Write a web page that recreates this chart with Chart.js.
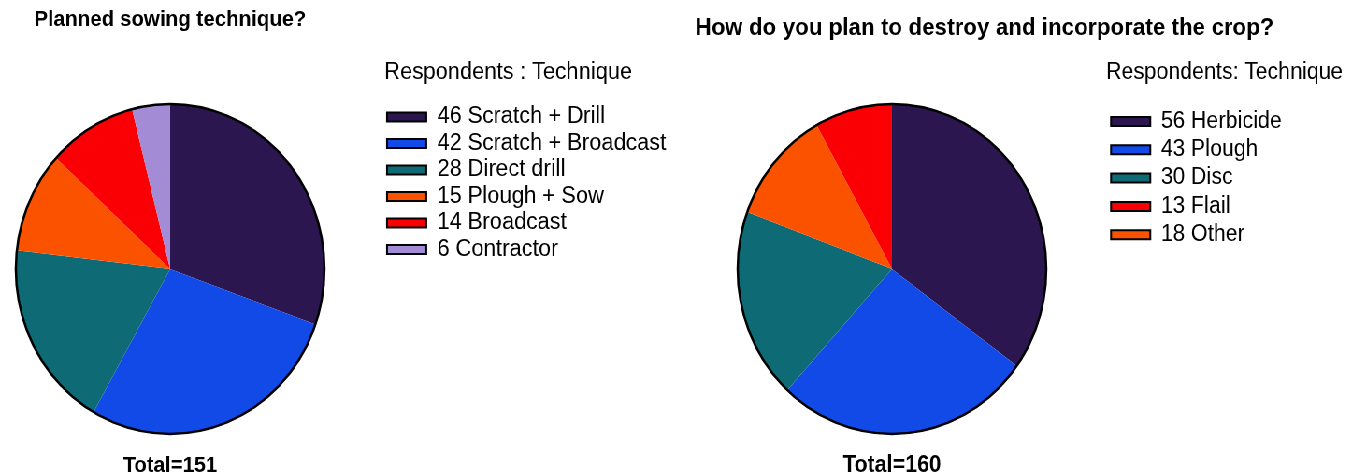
<!DOCTYPE html>
<html>
<head>
<meta charset="utf-8">
<script src="https://cdn.jsdelivr.net/npm/chart.js@4.4.1/dist/chart.umd.min.js"></script>
<style>
  html, body { margin: 0; padding: 0; background: #fff; overflow: hidden; }
  /* the source figure is squeezed horizontally, so the whole drawing is too */
  #wrap { position: relative; width: 1444px; height: 480px; transform: scaleX(0.935); transform-origin: 0 0; }
  #sowing { position: absolute; left: -47px; top: 0; }
  #destroy { position: absolute; left: 725px; top: 0; }
</style>
</head>
<body>
<div id="wrap">
  <canvas id="sowing" width="773" height="480"></canvas>
  <canvas id="destroy" width="719" height="480"></canvas>
</div>
<script>
const sowingLabels = ['Scratch + Drill', 'Scratch + Broadcast', 'Direct drill', 'Plough + Sow', 'Broadcast', 'Contractor'];
const sowingValues = [46, 42, 28, 15, 14, 6];
const sowingColors = ['#2c1650', '#124ae8', '#0e6b75', '#fb5200', '#fa0005', '#a48bd6'];

// pie order (clockwise from top) differs from the legend order
const destroyLabels = ['Herbicide', 'Plough', 'Disc', 'Other', 'Flail'];
const destroyValues = [56, 43, 30, 18, 13];
const destroyColors = ['#2c1650', '#124ae8', '#0e6b75', '#fb5200', '#fa0005'];
const destroyLegendOrder = ['Herbicide', 'Plough', 'Disc', 'Flail', 'Other'];

Chart.defaults.font.family = "'Liberation Sans', Arial, sans-serif";
Chart.defaults.color = '#000';

const sum = arr => arr.reduce((a, b) => a + b, 0);

const pieLabels = Chart.overrides.pie.plugins.legend.labels.generateLabels;
function legendLabels(chart) {
  const values = chart.data.datasets[0].data;
  return pieLabels(chart).map(item => Object.assign(item, {
    text: values[item.index] + ' ' + item.text,
    strokeStyle: '#000',
    lineWidth: 2
  }));
}

// black ring round the pie only, not between slices
const pieOutline = {
  id: 'pieOutline',
  afterDatasetsDraw(chart) {
    const arc = chart.getDatasetMeta(0).data[0];
    const ctx = chart.ctx;
    ctx.save();
    ctx.beginPath();
    ctx.arc(arc.x, arc.y, arc.outerRadius, 0, Math.PI * 2);
    ctx.lineWidth = 2.5;
    ctx.strokeStyle = '#000';
    ctx.stroke();
    ctx.restore();
  }
};

const chartSowing = new Chart(document.getElementById('sowing'), {
  type: 'pie',
  data: {
    labels: sowingLabels,
    datasets: [{
      data: sowingValues,
      backgroundColor: sowingColors,
      borderWidth: 0,
      hoverOffset: 0
    }]
  },
  options: {
    responsive: false,
    animation: false,
    devicePixelRatio: 1,
    events: [],
    layout: { padding: { left: 0, right: 3.4, top: 0, bottom: 0 } },
    plugins: {
      title: {
        display: true,
        text: 'Planned sowing technique?',
        fullSize: false,
        font: { size: 22, weight: 'bold' },
        padding: { top: 7, bottom: 70.6 }
      },
      subtitle: {
        display: true,
        text: 'Total=' + sum(sowingValues),
        position: 'bottom',
        fullSize: false,
        color: '#000',
        font: { size: 22, weight: 'bold' },
        padding: { top: 18.3, bottom: 1.3 }
      },
      legend: {
        position: 'right',
        align: 'start',
        title: {
          display: true,
          text: 'Respondents : Technique',
          position: 'start',
          color: '#000',
          font: { size: 23.5 },
          padding: { top: 61.25, bottom: 12.8 }
        },
        labels: {
          boxWidth: 42,
          boxHeight: 9,
          padding: 3,
          color: '#000',
          font: { size: 23.5 },
          generateLabels: legendLabels
        }
      },
      tooltip: { enabled: false }
    }
  },
  plugins: [pieOutline]
});

const chartDestroy = new Chart(document.getElementById('destroy'), {
  type: 'pie',
  data: {
    labels: destroyLabels,
    datasets: [{
      data: destroyValues,
      backgroundColor: destroyColors,
      borderWidth: 0,
      hoverOffset: 0
    }]
  },
  options: {
    responsive: false,
    animation: false,
    devicePixelRatio: 1,
    events: [],
    layout: { padding: { left: 0, right: 63.1, top: 0, bottom: 0 } },
    plugins: {
      title: {
        display: true,
        text: 'How do you plan to destroy and incorporate the crop?',
        font: { size: 24, weight: 'bold' },
        padding: { top: 13.6, bottom: 61.6 }
      },
      subtitle: {
        display: true,
        text: 'Total=' + sum(destroyValues),
        position: 'bottom',
        fullSize: false,
        color: '#000',
        font: { size: 23, weight: 'bold' },
        padding: { top: 17.7, bottom: 0.7 }
      },
      legend: {
        position: 'right',
        align: 'start',
        title: {
          display: true,
          text: 'Respondents: Technique',
          position: 'start',
          color: '#000',
          font: { size: 23 },
          padding: { top: 61, bottom: 16.1 }
        },
        labels: {
          boxWidth: 42,
          boxHeight: 9,
          padding: 5.3,
          color: '#000',
          font: { size: 23 },
          generateLabels: legendLabels,
          sort: (a, b) => destroyLegendOrder.indexOf(destroyLabels[a.index]) - destroyLegendOrder.indexOf(destroyLabels[b.index])
        }
      },
      tooltip: { enabled: false }
    }
  },
  plugins: [pieOutline]
});

// the legend title is wider than the legend items; let it run past the box instead of being clipped
chartDestroy.legend.draw = function () {
  if (this.options.display) this._draw();
};
chartDestroy.draw();
</script>
</body>
</html>
